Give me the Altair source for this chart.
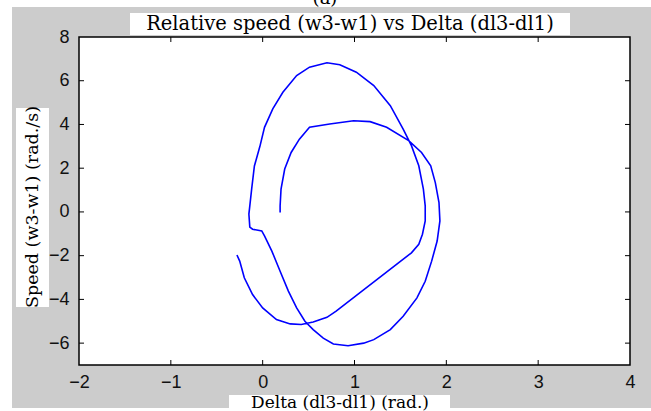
import altair as alt
import pandas as pd

# Phase-plane trajectory: rotor angle difference vs relative speed
delta = [0.19, 0.19, 0.20, 0.24, 0.31, 0.40, 0.51, 0.73, 0.99, 1.17, 1.35, 1.59,
         1.73, 1.83, 1.88, 1.92, 1.93, 1.90, 1.84, 1.77, 1.68, 1.53, 1.39, 1.21,
         1.10, 0.93, 0.77, 0.66, 0.55, 0.46, 0.37, 0.28, 0.19, 0.10, 0.02, -0.01,
         -0.05, -0.11, -0.14, -0.15, -0.14, -0.12, -0.09, -0.03, 0.02, 0.11, 0.22,
         0.37, 0.51, 0.70, 0.84, 1.02, 1.21, 1.39, 1.53, 1.62, 1.70, 1.75, 1.77,
         1.77, 1.74, 1.70, 1.62, 0.80, 0.70, 0.55, 0.42, 0.30, 0.15, 0.00, -0.11,
         -0.20, -0.25, -0.28]
speed = [-0.03, 0.28, 1.04, 1.96, 2.72, 3.33, 3.87, 4.02, 4.17, 4.13, 3.87, 3.26,
         2.72, 2.11, 1.34, 0.43, -0.41, -1.33, -2.25, -3.17, -3.93, -4.77, -5.38,
         -5.84, -6.00, -6.12, -6.04, -5.77, -5.38, -5.00, -4.39, -3.62, -2.71,
         -1.79, -1.10, -0.87, -0.84, -0.79, -0.69, -0.10, 0.28, 1.04, 2.10, 3.00,
         3.87, 4.71, 5.47, 6.24, 6.62, 6.82, 6.73, 6.39, 5.78, 4.86, 3.79, 3.03,
         2.11, 1.04, 0.28, -0.41, -1.02, -1.48, -1.87, -4.54, -4.82, -5.03, -5.15,
         -5.12, -4.92, -4.39, -3.78, -3.01, -2.25, -1.97]

x_ticks = [-2, -1, 0, 1, 2, 3, 4]
y_ticks = [-6, -4, -2, 0, 2, 4, 6, 8]
x_inner_ticks = [-1, 0, 1, 2, 3]
y_inner_ticks = [-6, -4, -2, 0, 2, 4, 6]

title_text = "Relative speed (w3-w1) vs  Delta (dl3-dl1)"
x_title = "Delta (dl3-dl1) (rad.)"
y_title = "Speed (w3-w1) (rad./s)"

W, H = 551, 328
LEFT, TOP = 79, 37
RIGHT = 651 - LEFT - W
BOTTOM = 411 - TOP - H

curve = pd.DataFrame({"delta": delta, "speed": speed, "step": range(len(delta))})
xt = pd.DataFrame({"delta": x_inner_ticks})
yt = pd.DataFrame({"speed": y_inner_ticks})
one = pd.DataFrame({"k": [0]})

xscale = alt.Scale(domain=[-2, 4], nice=False, zero=False)
yscale = alt.Scale(domain=[-7, 8], nice=False, zero=False)

label_font = "Liberation Sans"
serif = "DejaVu Serif"

xaxis = alt.Axis(values=x_ticks, title=None, ticks=False, domain=False, grid=False,
                 labelFont=label_font, labelFontSize=18, labelColor="#111111",
                 labelPadding=8, labelFlush=False, labelOverlap=False)
yaxis = alt.Axis(values=y_ticks, title=None, ticks=False, domain=False, grid=False,
                 labelFont=label_font, labelFontSize=18, labelColor="#111111",
                 labelPadding=10, labelOverlap=False)

X = alt.X("delta:Q", scale=xscale, axis=xaxis)
Y = alt.Y("speed:Q", scale=yscale, axis=yaxis)

line = alt.Chart(curve).mark_line(color="#0000ff", strokeWidth=1.6).encode(
    x=X, y=Y, order=alt.Order("step:Q"),
)

# inward-pointing ticks on all four sides of the box
TICK = 5
tick_style = dict(color="black", strokeWidth=1)
top_ticks = alt.Chart(xt).mark_rule(**tick_style).encode(
    x=X, y=alt.value(0), y2=alt.value(TICK))
bottom_ticks = alt.Chart(xt).mark_rule(**tick_style).encode(
    x=X, y=alt.value(H - TICK), y2=alt.value(H))
left_ticks = alt.Chart(yt).mark_rule(**tick_style).encode(
    y=Y, x=alt.value(0), x2=alt.value(TICK))
right_ticks = alt.Chart(yt).mark_rule(**tick_style).encode(
    y=Y, x=alt.value(W - TICK), x2=alt.value(W))


def box(x0, x1, y0, y1):
    # white panel, given in pixels relative to the plot area
    return alt.Chart(one).mark_rect(color="white").encode(
        x=alt.value(x0 - LEFT), x2=alt.value(x1 - LEFT),
        y=alt.value(y0 - TOP), y2=alt.value(y1 - TOP))


def label(text, cx, cy, size=18, angle=0, baseline="middle"):
    return alt.Chart(one).mark_text(
        text=text, font=serif, fontSize=size, color="black", angle=angle,
        align="center", baseline=baseline).encode(
        x=alt.value(cx - LEFT), y=alt.value(cy - TOP))


# white margins around the grey figure panel
margins = [box(0, 651, 0, 7), box(0, 12, 0, 411), box(0, 651, 408, 411)]

title_box = box(130, 570, 13, 35)
xlab_box = box(229, 450, 395, 411)
ylab_box = box(16, 49, 108, 307)

texts = [
    label("(a)", 325, 4, size=18, baseline="alphabetic"),
    label(title_text, 350, 24, size=19.5),
    label(x_title, 340, 403, size=17),
    label(y_title, 33, 207, size=17.5, angle=270),
]

chart = alt.layer(
    *margins, title_box, xlab_box, ylab_box, *texts,
    top_ticks, bottom_ticks, left_ticks, right_ticks, line,
).properties(
    width=W, height=H,
    autosize=alt.AutoSizeParams(type="none"),
    padding={"left": LEFT, "top": TOP, "right": RIGHT, "bottom": BOTTOM},
    background="#cccccc",
).configure_view(
    fill="white", stroke="black", strokeWidth=1.5,
)

chart.save("out.html", embed_options={"renderer": "svg", "actions": False})
